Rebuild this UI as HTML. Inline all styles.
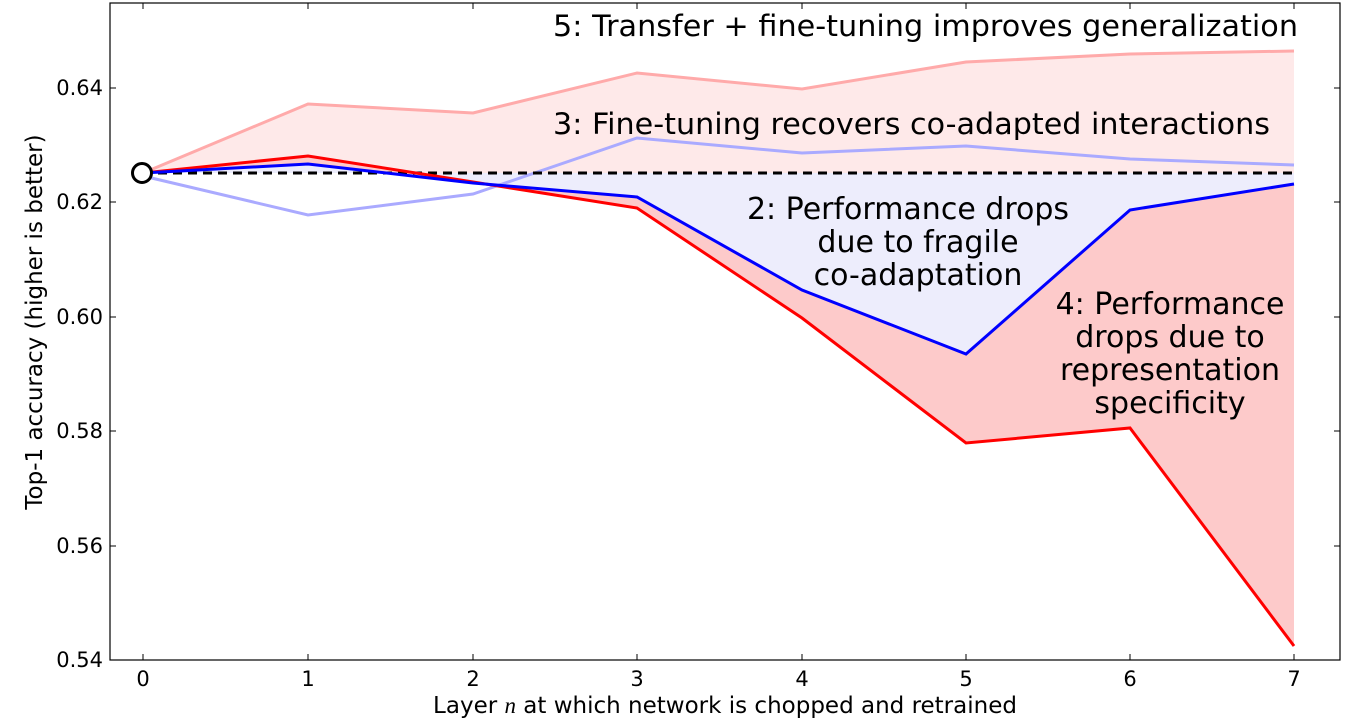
<!DOCTYPE html>
<html><head><style>body{margin:0;background:#fff}svg text{font-family:"DejaVu Sans","Liberation Sans",sans-serif}</style></head>
<body>
<svg width="1361" height="723" viewBox="0 0 1361 723" xmlns="http://www.w3.org/2000/svg">
<rect width="1361" height="723" fill="#fff"/>
<polygon fill="#fee9e9" points="143,173 308,104 473,113 637,73 802,89 966,62 1130,54 1294,51 1294,173 143,173"/>
<polygon fill="#fee9e9" points="143,173 308,156 473,182 473,173"/>
<polygon fill="#ededfc" points="143,173 308,164 473,183 637,197 802,290 966,354 1130,210 1294,184 1294,173 143,173"/>
<polygon fill="#fdcaca" points="143,173 308,156 473,182 637,208 802,318 966,443 1130,428 1294,646 1294,184 1130,210 966,354 802,290 637,197 473,183 308,164"/>
<polyline fill="none" stroke="#ffaaaa" stroke-width="3" points="143,173 308,104 473,113 637,73 802,89 966,62 1130,54 1294,51"/>
<polyline fill="none" stroke="#aaaaff" stroke-width="3" points="143,176 308,215 473,194 637,138 802,153 966,146 1130,159 1294,165"/>
<line x1="143" y1="173" x2="1294" y2="173" stroke="#000" stroke-width="3" stroke-dasharray="9,6"/>
<polyline fill="none" stroke="#ff0000" stroke-width="3" points="143,173 308,156 473,182 637,208 802,318 966,443 1130,428 1294,646"/>
<polyline fill="none" stroke="#0000ff" stroke-width="3" points="143,173 308,164 473,183 637,197 802,290 966,354 1130,210 1294,184"/>
<circle cx="142" cy="173" r="9.5" fill="#fff" stroke="#000" stroke-width="3"/>
<rect x="110" y="3" width="1230" height="657" fill="none" stroke="#000" stroke-width="1.2"/>
<g stroke="#000" stroke-width="1">
<line x1="143" y1="3" x2="143" y2="9"/><line x1="143" y1="660" x2="143" y2="654"/>
<line x1="308" y1="3" x2="308" y2="9"/><line x1="308" y1="660" x2="308" y2="654"/>
<line x1="473" y1="3" x2="473" y2="9"/><line x1="473" y1="660" x2="473" y2="654"/>
<line x1="637" y1="3" x2="637" y2="9"/><line x1="637" y1="660" x2="637" y2="654"/>
<line x1="802" y1="3" x2="802" y2="9"/><line x1="802" y1="660" x2="802" y2="654"/>
<line x1="966" y1="3" x2="966" y2="9"/><line x1="966" y1="660" x2="966" y2="654"/>
<line x1="1130" y1="3" x2="1130" y2="9"/><line x1="1130" y1="660" x2="1130" y2="654"/>
<line x1="1294" y1="3" x2="1294" y2="9"/><line x1="1294" y1="660" x2="1294" y2="654"/>
<line x1="110" y1="88" x2="116" y2="88"/><line x1="1340" y1="88" x2="1334" y2="88"/>
<line x1="110" y1="202" x2="116" y2="202"/><line x1="1340" y1="202" x2="1334" y2="202"/>
<line x1="110" y1="317" x2="116" y2="317"/><line x1="1340" y1="317" x2="1334" y2="317"/>
<line x1="110" y1="431" x2="116" y2="431"/><line x1="1340" y1="431" x2="1334" y2="431"/>
<line x1="110" y1="546" x2="116" y2="546"/><line x1="1340" y1="546" x2="1334" y2="546"/>
</g>
<g font-size="21" text-anchor="middle">
<text x="143" y="686">0</text><text x="308" y="686">1</text><text x="473" y="686">2</text><text x="637" y="686">3</text>
<text x="802" y="686">4</text><text x="966" y="686">5</text><text x="1130" y="686">6</text><text x="1294" y="686">7</text>
</g>
<g font-size="21" text-anchor="end">
<text x="103" y="95">0.64</text><text x="103" y="209">0.62</text><text x="103" y="324">0.60</text>
<text x="103" y="438">0.58</text><text x="103" y="553">0.56</text><text x="103" y="667">0.54</text>
</g>
<text x="725" y="713" font-size="23" text-anchor="middle">Layer <tspan font-style="italic" font-family="Liberation Serif">n</tspan> at which network is chopped and retrained</text>
<text transform="translate(42,322) rotate(-90)" font-size="23" text-anchor="middle">Top-1 accuracy (higher is better)</text>
<g font-size="29">
<text x="1298" y="36" text-anchor="end" textLength="745" lengthAdjust="spacingAndGlyphs">5: Transfer + fine-tuning improves generalization</text>
<text x="1270" y="134" text-anchor="end" textLength="717" lengthAdjust="spacingAndGlyphs">3: Fine-tuning recovers co-adapted interactions</text>
<g text-anchor="middle" font-size="30">
<text x="908" y="219">2: Performance drops</text>
<text x="918" y="252">due to fragile</text>
<text x="918" y="285">co-adaptation</text>
<text x="1170" y="314">4: Performance</text>
<text x="1170" y="347">drops due to</text>
<text x="1170" y="380">representation</text>
<text x="1170" y="413">specificity</text>
</g></g>
</svg>
</body></html>
